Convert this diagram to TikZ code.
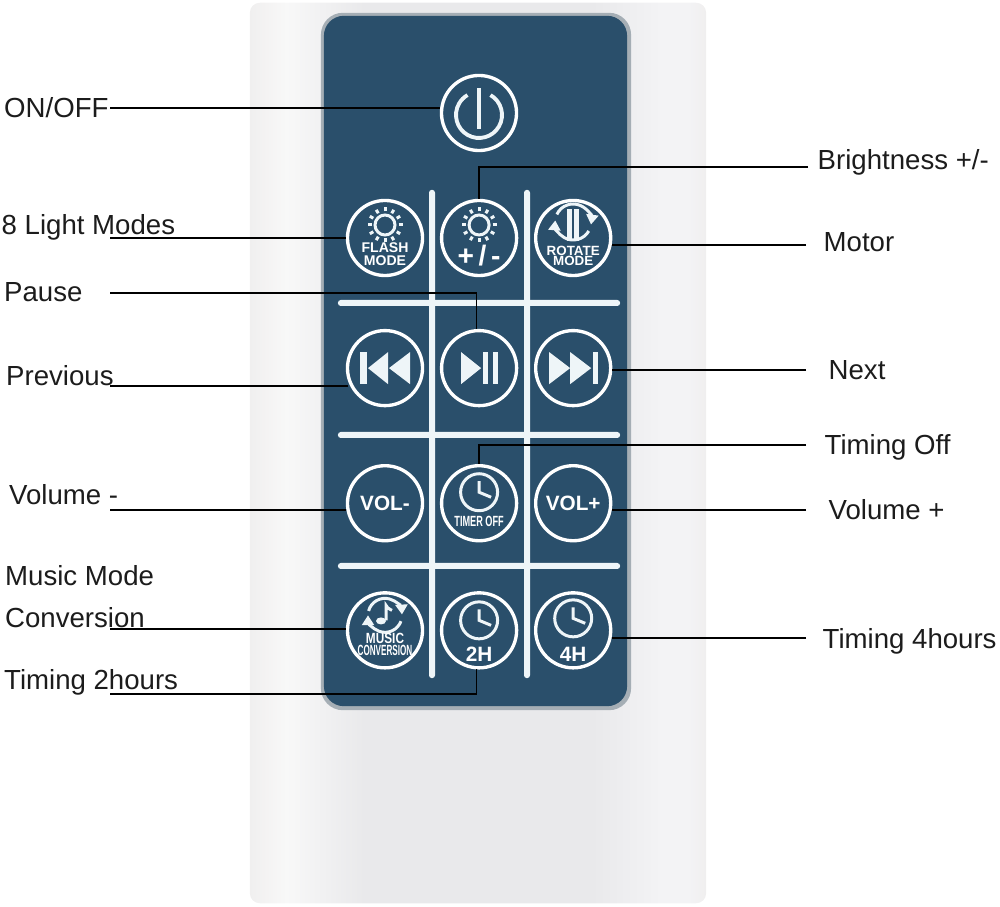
\documentclass[tikz,border=0pt]{standalone}
\usepackage{xcolor}
\usepackage{tikz}
\usepackage{graphicx}
\usepackage{fontspec}
\setmainfont{Liberation Sans}
\usetikzlibrary{shapes,arrows.meta,positioning}
\definecolor{remotedark}{HTML}{2A4F6B}
\definecolor{remoterim}{HTML}{A5AEB5}
\definecolor{remotelight}{HTML}{EEF5F8}
\definecolor{calloutink}{HTML}{1C1C1C}
\definecolor{caseedge}{HTML}{F0EFEF}
\definecolor{casehigh}{HTML}{F8F8F8}
\definecolor{casemid}{HTML}{E9E9EB}
\definecolor{caseside}{HTML}{F3F3F5}
\pgfdeclarehorizontalshading{bodyshade}{100bp}{
    color(0bp)=(caseedge); color(25bp)=(caseedge); color(29bp)=(casehigh); color(37.5bp)=(casemid);
    color(62.5bp)=(casemid); color(70bp)=(caseside); color(73bp)=(caseside); color(75bp)=(caseedge);
    color(100bp)=(caseedge)}
\tikzstyle{body} = [rectangle, rounded corners=0.1cm, shading=bodyshade, inner sep=0pt,
    minimum width=4.56cm, minimum height=9cm]
\tikzstyle{panelrim} = [rectangle, rounded corners=0.22cm, fill=remoterim, inner sep=0pt,
    minimum width=3.1cm, minimum height=6.97cm]
\tikzstyle{panel} = [rectangle, rounded corners=0.2cm, fill=remotedark, inner sep=0pt,
    minimum width=3.03cm, minimum height=6.9cm]
\tikzstyle{keybtn} = [circle, draw=white, line width=0.95pt, inner sep=0pt, minimum size=0.75cm]
\tikzstyle{vdivider} = [rectangle, rounded corners=0.8pt, fill=remotelight, inner sep=0pt,
    minimum width=0.06cm, minimum height=4.88cm]
\tikzstyle{hdivider} = [rectangle, rounded corners=0.8pt, fill=remotelight, inner sep=0pt,
    minimum width=2.82cm, minimum height=0.06cm]
\tikzstyle{keyicon} = [draw=remotelight, line width=0.85pt]
\tikzstyle{keyfill} = [fill=remotelight]
\tikzstyle{keytext} = [text=white, inner sep=0pt, font=\bfseries\fontsize{4}{5}\selectfont]
\tikzstyle{keybold} = [text=white, inner sep=0pt, font=\bfseries\fontsize{4.2}{5}\selectfont]
\tikzstyle{keylarge} = [text=white, inner sep=0pt, font=\bfseries\fontsize{5.9}{7}\selectfont]
\tikzstyle{callout} = [anchor=base west, inner sep=0pt, text=calloutink, font=\fontsize{7.85}{10}\selectfont]
\tikzstyle{leader} = [draw=black, line width=0.45pt]
\tikzstyle{turn} = [keyicon, -{Triangle[length=2.8pt,width=3.4pt]}]
\newcommand{\sunicon}[2]{
\begin{scope}[shift={(#1)},shift={(0,#2)}]
\draw[keyicon] (0,0) circle (10);
\foreach \ang in {0,30,...,330} \draw[keyicon] (\ang:13.5) -- (\ang:17.5);
\end{scope}}
\newcommand{\clockicon}[2]{
\begin{scope}[shift={(#1)},shift={(0,#2)}]
\draw[keyicon] (0,0) circle (18.5);
\draw[keyicon] (0,-11) -- (0,0) -- (12,5);
\end{scope}}
\begin{document}
\begin{tikzpicture}[x=0.01cm,y=-0.01cm,node distance=0.157cm]
\useasboundingbox (0,0) rectangle (1000,907);
\node[body] (case) at (478,453) {};
\node[panelrim] (rim) at (476,361.5) {};
\node[panel] (face) at (475.5,361) {};
\node[vdivider] (vleft) at (432,434) {};
\node[vdivider] (vright) at (527,434) {};
\node[hdivider] (htop) at (479,303) {};
\node[hdivider] (hmid) at (479,435) {};
\node[hdivider] (hlow) at (479,566) {};

\node[keybtn] (onoff) at (479,113) {};
\node[keybtn] (flash) at (385,238) {};
\node[keybtn, right=of flash] (bright) {};
\node[keybtn, right=of bright] (rotate) {};
\node[keybtn, below=0.517cm of flash] (prev) {};
\node[keybtn, right=of prev] (play) {};
\node[keybtn, right=of play] (next) {};
\node[keybtn, below=0.567cm of prev] (voldown) {};
\node[keybtn, right=of voldown] (timeroff) {};
\node[keybtn, right=of timeroff] (volup) {};
\node[keybtn, below=0.487cm of voldown] (music) {};
\node[keybtn, right=of music] (twoh) {};
\node[keybtn, right=of twoh] (fourh) {};

\begin{scope}[shift={(onoff)}]
\draw[keyicon, line width=1.1pt] (-60:23) ++(0,2) arc[start angle=-60,end angle=240,radius=23];
\draw[keyicon, line width=1.4pt] (0,-25) -- (0,16);
\end{scope}

\sunicon{flash}{-13}
\node[keytext] (tflash) at ([yshift=-0.10cm]flash) {FLASH};
\node[keytext] (tflashb) at ([yshift=-0.23cm]flash) {MODE};

\sunicon{bright}{-13}
\node[keytext, font=\bfseries\fontsize{8}{9}\selectfont] (tbright) at ([yshift=-0.18cm]bright) {+\,/\,-};

\begin{scope}[shift={(rotate)},shift={(0,-16)}]
\fill[keyfill] (-6,-13) rectangle (-1,19);
\fill[keyfill] (1,-13) rectangle (6,19);
\draw[turn] (-155:18) arc[start angle=-155,end angle=8,radius=18];
\draw[turn] (30:18) arc[start angle=30,end angle=185,radius=18];
\end{scope}
\node[keytext, font=\bfseries\fontsize{3.8}{5}\selectfont] (trotate) at ([yshift=-0.13cm]rotate) {ROTATE};
\node[keytext, font=\bfseries\fontsize{3.8}{5}\selectfont] (trotateb) at ([yshift=-0.23cm]rotate) {MODE};

\begin{scope}[shift={(prev)}]
\fill[keyfill] (-25,-16) rectangle (-18,16);
\fill[keyfill] (-17,0) -- (3,-16) -- (3,16) -- cycle;
\fill[keyfill] (4,0) -- (25,-16) -- (25,16) -- cycle;
\end{scope}
\begin{scope}[shift={(play)}]
\fill[keyfill] (-18,-16) -- (2,0) -- (-18,16) -- cycle;
\fill[keyfill] (4,-16) rectangle (9,16);
\fill[keyfill] (14,-16) rectangle (19,16);
\end{scope}
\begin{scope}[shift={(next)}]
\fill[keyfill] (-24,-16) -- (-3,0) -- (-24,16) -- cycle;
\fill[keyfill] (-3,-16) -- (18,0) -- (-3,16) -- cycle;
\fill[keyfill] (20,-16) rectangle (25,16);
\end{scope}

\node[keylarge] (tvoldown) at (voldown) {VOL-};
\node[keylarge] (tvolup) at (volup) {VOL+};
\clockicon{timeroff}{-11}
\node[keybold] (ttimer) at ([yshift=-0.18cm]timeroff) {\scalebox{.62}[1]{TIMER OFF}};

\begin{scope}[shift={(music)},shift={(0,-15)}]
\draw[turn] (-165:17) arc[start angle=-165,end angle=-3,radius=17];
\draw[turn] (20:17) arc[start angle=20,end angle=180,radius=17];
\fill[keyfill] (-4,5.6) ellipse (5 and 3.5);
\draw[keyicon] (1,5) -- (1,-10) .. controls (3,-6) and (6,-6) .. (7,-5);
\end{scope}
\node[keybold] (tmusic) at ([yshift=-0.08cm]music) {\scalebox{.8}[1]{MUSIC}};
\node[keybold] (tmusicb) at ([yshift=-0.20cm]music) {\scalebox{.55}[1]{CONVERSION}};

\clockicon{twoh}{-10}
\node[keylarge] (ttwoh) at ([yshift=-0.24cm]twoh) {2H};
\clockicon{fourh}{-12}
\node[keylarge] (tfourh) at ([yshift=-0.24cm]fourh) {4H};

\node[callout] (lonoff) at (3.5,118) {ON/OFF};
\node[callout] (lmodes) at (1,235) {8 Light Modes};
\node[callout] (lpause) at (3.5,302) {Pause};
\node[callout] (lprev) at (5.5,386) {Previous};
\node[callout] (lvoldown) at (8.5,505) {Volume -};
\node[callout] (lmusic) at (4.5,586) {Music Mode};
\node[callout] (lconv) at (4.5,628) {Conversion};
\node[callout] (ltwoh) at (3.5,690) {Timing 2hours};
\node[callout] (lbright) at (817,170) {Brightness +/-};
\node[callout] (lmotor) at (823,252) {Motor};
\node[callout] (lnext) at (828,380) {Next};
\node[callout] (ltimeroff) at (824,455) {Timing Off};
\node[callout] (lvolup) at (828,520) {Volume +};
\node[callout] (lfourh) at (822,649) {Timing 4hours};

\coordinate (conoff) at (110,108);
\coordinate (cmodes) at (110,238);
\coordinate (cpause) at (110,293);
\coordinate (cprev) at (110,386);
\coordinate (cvoldown) at (110,510);
\coordinate (cconv) at (110,629);
\coordinate (ctwoh) at (110,694);
\coordinate (cbright) at (808,167);
\coordinate (cmotor) at (806,245);
\coordinate (cnext) at (806,370);
\coordinate (ctimeroff) at (806,445);
\coordinate (cvolup) at (806,510);
\coordinate (cfourh) at (806,638);

\draw[leader] (conoff) -- (conoff -| onoff.west);
\draw[leader] (cmodes) -- (cmodes -| flash.west);
\draw[leader] (cpause) -| (play.94);
\draw[leader] (cprev) -- (cprev -| prev.200);
\draw[leader] (cvoldown) -- (cvoldown -| voldown.190);
\draw[leader] (cconv) -- (cconv -| music.west);
\draw[leader] (ctwoh) -| (twoh.-94);
\draw[leader] (cbright) -| (bright.north);
\draw[leader] (cmotor) -- (cmotor -| rotate.-10);
\draw[leader] (cnext) -- (cnext -| next.east);
\draw[leader] (ctimeroff) -| (timeroff.north);
\draw[leader] (cvolup) -- (cvolup -| volup.-10);
\draw[leader] (cfourh) -- (cfourh -| fourh.-10);
\end{tikzpicture}
\end{document}
